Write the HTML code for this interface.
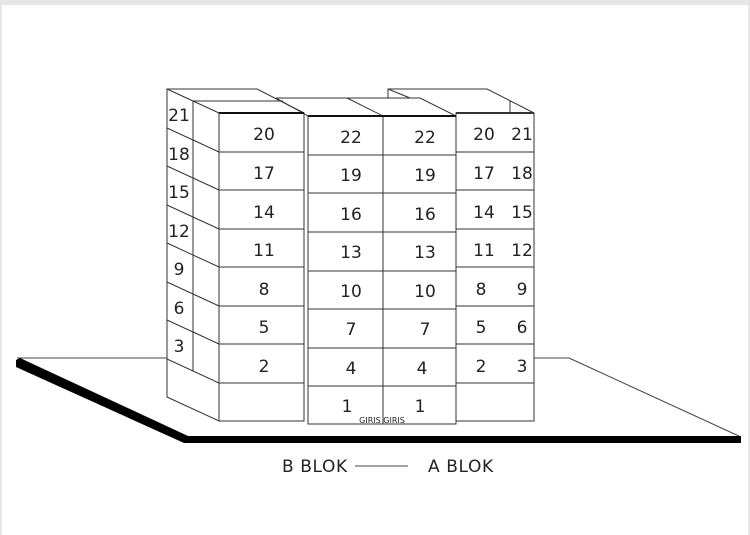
<!DOCTYPE html>
<html><head><meta charset="utf-8"><style>
html,body{margin:0;padding:0;background:#fff;}
svg{display:block;}
text{font-family:"DejaVu Sans","Liberation Sans",sans-serif;fill:#222;}
</style></head><body>
<svg width="750" height="535" viewBox="0 0 750 535" xmlns="http://www.w3.org/2000/svg">
<rect x="0" y="0" width="750" height="535" fill="#fff"/>
<rect x="0" y="0" width="750" height="5" fill="#e6e6e6"/>
<rect x="0" y="0" width="2" height="535" fill="#e6e6e6"/>
<rect x="748" y="0" width="2" height="535" fill="#e6e6e6"/>
<g stroke="#444" stroke-width="1" fill="none">
<line x1="17" y1="358" x2="167" y2="358"/>
<line x1="534" y1="358" x2="569" y2="358"/>
<line x1="569" y1="358" x2="741" y2="437"/>
</g>
<polygon points="16,360 20,358 188,436 741,436 741,443 184,443 16,367" fill="#000"/>
<g stroke="#333" stroke-width="1" fill="#fff">
<polygon points="167,89 219,113 219,421 167,397"/>
<line x1="193" y1="101" x2="193" y2="371"/>
<polyline points="167,89 257,89 304,113" fill="none"/>
<line x1="193" y1="101" x2="283" y2="101"/>
<line x1="219" y1="113" x2="304" y2="113"/>
<rect x="219" y="113" width="85" height="308"/>
<polyline points="388,98 388,89 487,89 534,113" fill="none"/>
<line x1="388" y1="89" x2="410" y2="98"/>
<line x1="510" y1="101" x2="510" y2="383"/>
<rect x="456" y="113" width="78" height="308"/>
<line x1="456" y1="113" x2="534" y2="113" stroke-width="2"/>
<line x1="510" y1="101" x2="510" y2="113"/>
<polyline points="276,98 420,98 456,116" fill="none"/>
<line x1="276" y1="98" x2="308" y2="116"/>
<line x1="347" y1="98" x2="383" y2="116"/>
<rect x="308" y="116" width="148" height="308"/>
<line x1="304" y1="113" x2="304" y2="421"/>
<line x1="383" y1="116" x2="383" y2="424"/>
</g>
<line x1="219" y1="113" x2="304" y2="113" stroke="#111" stroke-width="2"/>
<line x1="308" y1="116" x2="456" y2="116" stroke="#111" stroke-width="2"/>
<g stroke="#333" stroke-width="1">
<line x1="167" y1="128" x2="219" y2="152"/><line x1="167" y1="166" x2="219" y2="190"/>
<line x1="167" y1="205" x2="219" y2="229"/><line x1="167" y1="243" x2="219" y2="267"/>
<line x1="167" y1="282" x2="219" y2="306"/><line x1="167" y1="320" x2="219" y2="344"/>
<line x1="167" y1="359" x2="219" y2="383"/>
<line x1="219" y1="152" x2="304" y2="152"/><line x1="219" y1="190" x2="304" y2="190"/>
<line x1="219" y1="229" x2="304" y2="229"/><line x1="219" y1="267" x2="304" y2="267"/>
<line x1="219" y1="306" x2="304" y2="306"/><line x1="219" y1="344" x2="304" y2="344"/>
<line x1="219" y1="383" x2="304" y2="383"/>
<line x1="308" y1="155" x2="456" y2="155"/><line x1="308" y1="193" x2="456" y2="193"/>
<line x1="308" y1="232" x2="456" y2="232"/><line x1="308" y1="271" x2="456" y2="271"/>
<line x1="308" y1="309" x2="456" y2="309"/><line x1="308" y1="348" x2="456" y2="348"/>
<line x1="308" y1="386" x2="456" y2="386"/>
<line x1="456" y1="152" x2="534" y2="152"/><line x1="456" y1="190" x2="534" y2="190"/>
<line x1="456" y1="229" x2="534" y2="229"/><line x1="456" y1="267" x2="534" y2="267"/>
<line x1="456" y1="306" x2="534" y2="306"/><line x1="456" y1="344" x2="534" y2="344"/>
<line x1="456" y1="383" x2="534" y2="383"/>
</g>
<g font-size="17" text-anchor="middle">
<text x="179" y="121">21</text><text x="179" y="160">18</text><text x="179" y="198">15</text>
<text x="179" y="237">12</text><text x="179" y="275">9</text><text x="179" y="314">6</text><text x="179" y="352">3</text>
<text x="264" y="140">20</text><text x="264" y="179">17</text><text x="264" y="218">14</text>
<text x="264" y="256">11</text><text x="264" y="295">8</text><text x="264" y="333">5</text><text x="264" y="372">2</text>
<text x="351" y="143">22</text><text x="351" y="181">19</text><text x="351" y="220">16</text>
<text x="351" y="258">13</text><text x="351" y="297">10</text><text x="351" y="335">7</text><text x="351" y="374">4</text><text x="347" y="412">1</text>
<text x="425" y="143">22</text><text x="425" y="181">19</text><text x="425" y="220">16</text>
<text x="425" y="258">13</text><text x="425" y="297">10</text><text x="425" y="335">7</text><text x="422" y="374">4</text><text x="420" y="412">1</text>
<text x="484" y="140">20</text><text x="484" y="179">17</text><text x="484" y="218">14</text>
<text x="484" y="256">11</text><text x="481" y="295">8</text><text x="481" y="333">5</text><text x="481" y="372">2</text>
<text x="522" y="140">21</text><text x="522" y="179">18</text><text x="522" y="218">15</text>
<text x="522" y="256">12</text><text x="522" y="295">9</text><text x="522" y="333">6</text><text x="522" y="372">3</text>
</g>
<text x="382" y="423" font-size="8" text-anchor="middle" fill="#555">GIRIS GIRIS</text>
<text x="282" y="472" font-size="17" letter-spacing="0.6">B BLOK</text>
<line x1="355" y1="466" x2="408" y2="466" stroke="#444" stroke-width="1"/>
<text x="428" y="472" font-size="17" letter-spacing="0.6">A BLOK</text>
</svg>
</body></html>
